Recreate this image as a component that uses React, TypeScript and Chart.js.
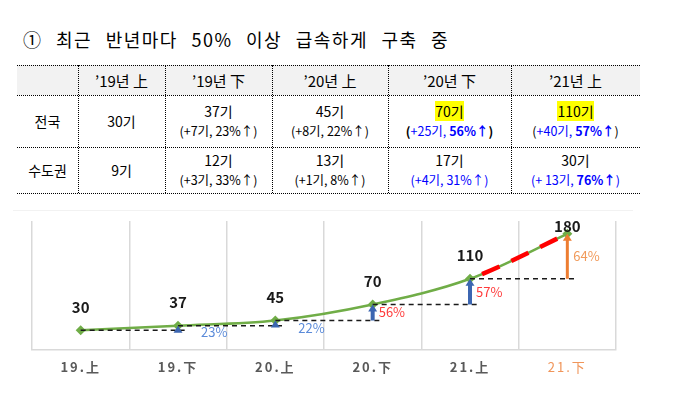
import React, { useEffect, useRef } from 'react';
import { Chart, registerables } from 'chart.js';

Chart.register(...registerables);

// ---------- data ----------
const titleText = '① 최근 반년마다 50% 이상 급속하게 구축 중';

const tableHeaders = ['’19년 上', '’19년 下', '’20년 上', '’20년 下', '’21년 上'];
const rowNames = ['전국', '수도권'];
const nationalCounts = ['30기', '37기', '45기', '70기', '110기'];
const nationalDeltas = ['', '+7기', '+8기', '+25기', '+40기'];
const nationalRates = ['', '23%', '22%', '56%', '57%'];
const capitalCounts = ['9기', '12기', '13기', '17기', '30기'];
const capitalDeltas = ['', '+3기', '+1기', '+4기', '+ 13기'];
const capitalRates = ['', '33%', '8%', '31%', '76%'];

const periods = ['19.上', '19.下', '20.上', '20.下', '21.上', '21.下'];
const stations = [30, 37, 45, 70, 110, 180];
const growthRates = ['', '23%', '22%', '56%', '57%', '64%'];

// ---------- styles ----------
const FONT = '"Noto Sans CJK KR", "Noto Sans", sans-serif';
const BLUE = '#0000FF';
const rateColors = ['', '#5B8BD9', '#5B8BD9', '#FF3B3B', '#FF3B3B', '#F19A5A'];
const arrowColors = ['', '#3C66B1', '#3C66B1', '#3C66B1', '#3C66B1', '#ED7D31'];
const colEdges = [17, 78, 165, 272, 388, 511, 640];
const rowEdges = [65, 95, 147, 193];

function arrow(ctx: CanvasRenderingContext2D, x: number, yFrom: number, yTo: number, color: string, w: number) {
  const head = 7;
  const hw = 4.5;
  ctx.strokeStyle = color;
  ctx.fillStyle = color;
  ctx.lineWidth = w;
  ctx.setLineDash([]);
  if (yFrom - yTo > head) {
    ctx.beginPath();
    ctx.moveTo(x, yFrom);
    ctx.lineTo(x, yTo + head - 1);
    ctx.stroke();
  }
  ctx.beginPath();
  ctx.moveTo(x, yTo);
  ctx.lineTo(x - hw, yTo + head);
  ctx.lineTo(x + hw, yTo + head);
  ctx.closePath();
  ctx.fill();
}

const overlayPlugin = {
  id: 'overlay',
  beforeDraw(chart: any) {
    (chart.ctx as any).letterSpacing = '2px';
  },
  beforeDatasetsDraw(chart: any) {
    (chart.ctx as any).letterSpacing = '0px';
  },
  afterDatasetsDraw(chart: any) {
    const ctx: CanvasRenderingContext2D = chart.ctx;
    const xs = chart.scales.x;
    const ys = chart.scales.y;
    const n = stations.length;
    ctx.save();
    (ctx as any).letterSpacing = '0px';
    // dashed reference levels
    ctx.strokeStyle = '#1a1a1a';
    ctx.lineWidth = 1.5;
    ctx.setLineDash([5, 4]);
    for (let i = 0; i < n - 1; i++) {
      const yy = ys.getPixelForValue(stations[i]);
      ctx.beginPath();
      ctx.moveTo(xs.getPixelForValue(i), yy);
      ctx.lineTo(xs.getPixelForValue(i + 1) + 10, yy);
      ctx.stroke();
    }
    // arrows + rate labels
    for (let i = 1; i < n; i++) {
      const ax = xs.getPixelForValue(i);
      const y0 = ys.getPixelForValue(stations[i - 1]);
      const y1 = ys.getPixelForValue(stations[i]);
      arrow(ctx, ax, y0, y1, arrowColors[i], i === n - 1 ? 3 : 4);
      const small = y0 - y1 < 12;
      ctx.font = `13px ${FONT}`;
      ctx.fillStyle = rateColors[i];
      ctx.textAlign = 'left';
      ctx.textBaseline = 'middle';
      ctx.fillText(growthRates[i], small ? ax + 23 : ax + 6, small ? y0 + 2 : (y0 + y1) / 2);
    }
    // value labels
    ctx.font = `bold 15px ${FONT}`;
    ctx.fillStyle = '#1a1a1a';
    ctx.textAlign = 'center';
    ctx.textBaseline = 'middle';
    for (let i = 0; i < n; i++) {
      const px = xs.getPixelForValue(i);
      const py = ys.getPixelForValue(stations[i]);
      ctx.fillText(String(stations[i]), px, Math.max(py - 23, chart.chartArea.top + 5));
    }
    ctx.restore();
  },
};

function Sub({ delta, rate, variant }: { delta: string; rate: string; variant: string }) {
  if (!delta) return null;
  if (variant === 'plain') return <span>({delta}, {rate}↑)</span>;
  if (variant === 'natBold')
    return (
      <span>
        <b>(</b>
        <span style={{ color: BLUE }}>{delta}, </span>
        <b style={{ color: BLUE }}>{rate}↑</b>
        <b>)</b>
      </span>
    );
  if (variant === 'natBlue')
    return (
      <span>
        (<span style={{ color: BLUE }}>{delta}, </span>
        <b style={{ color: BLUE }}>{rate}↑</b>)
      </span>
    );
  if (variant === 'blue') return <span style={{ color: BLUE }}>({delta}, {rate}↑)</span>;
  return (
    <span style={{ color: BLUE }}>
      ({delta}, <b>{rate}↑</b>)
    </span>
  );
}

export default function App() {
  const canvasRef = useRef<HTMLCanvasElement>(null);

  useEffect(() => {
    const canvas = canvasRef.current;
    if (!canvas) return;
    const lineData = stations;
    const chart = new Chart(canvas, {
      type: 'line',
      data: {
        labels: periods,
        datasets: [
          {
            label: 'projection',
            data: lineData,
            borderColor: 'rgba(0,0,0,0)',
            borderWidth: 4.5,
            pointRadius: 0,
            cubicInterpolationMode: 'monotone',
            segment: {
              borderColor: (c: any) => (c.p0DataIndex === stations.length - 2 ? '#FF0000' : 'rgba(0,0,0,0)'),
              borderDash: (c: any) => (c.p0DataIndex === stations.length - 2 ? [19, 13] : []),
              borderDashOffset: (c: any) => (c.p0DataIndex === stations.length - 2 ? 19 : 0),
            },
          } as any,
          {
            label: '전국',
            data: lineData,
            borderColor: '#70AD47',
            borderWidth: 2.5,
            pointStyle: 'rectRot',
            pointRadius: 5,
            pointBackgroundColor: '#70AD47',
            pointBorderColor: '#70AD47',
            pointBorderWidth: 0,
            cubicInterpolationMode: 'monotone',
          } as any,
        ],
      },
      options: {
        animation: false,
        responsive: false,
        devicePixelRatio: 1,
        layout: { padding: { left: 32, right: 75, top: 21, bottom: 9 } },
        plugins: { legend: { display: false }, tooltip: { enabled: false } },
        scales: {
          x: {
            type: 'category',
            offset: true,
            grid: { offset: true, color: '#D9D9D9', lineWidth: 1.5, drawTicks: false },
            border: { color: '#D9D9D9', width: 1.5 },
            ticks: {
              padding: 10,
              color: (c: any) => (c.index === periods.length - 1 ? '#F0955A' : '#595959'),
              font: (c: any) => ({
                family: FONT,
                size: 13,
                weight: c.index === periods.length - 1 ? 'normal' : 'bold',
              }),
            },
          },
          y: { display: false, min: 0, max: 200 },
        },
      } as any,
      plugins: [overlayPlugin as any],
    });
    return () => chart.destroy();
  }, []);

  const cellBase: React.CSSProperties = {
    position: 'absolute',
    display: 'flex',
    flexDirection: 'column',
    alignItems: 'center',
    justifyContent: 'center',
    textAlign: 'center',
    whiteSpace: 'nowrap',
    color: '#000',
  };

  const cells: React.ReactNode[] = [];
  // header row
  cells.push(
    <div key="hbg" style={{ position: 'absolute', left: colEdges[0], top: rowEdges[0], width: colEdges[6] - colEdges[0], height: rowEdges[1] - rowEdges[0], background: '#F2F2F2' }} />
  );
  tableHeaders.forEach((h, i) => {
    cells.push(
      <div key={'h' + i} style={{ ...cellBase, left: colEdges[i + 1], top: rowEdges[0], width: colEdges[i + 2] - colEdges[i + 1], height: rowEdges[1] - rowEdges[0], fontSize: 15 }}>
        {h}
      </div>
    );
  });
  const rows = [
    { counts: nationalCounts, deltas: nationalDeltas, rates: nationalRates, variants: ['', 'plain', 'plain', 'natBold', 'natBlue'], hl: [false, false, false, true, true] },
    { counts: capitalCounts, deltas: capitalDeltas, rates: capitalRates, variants: ['', 'plain', 'plain', 'blue', 'blueBold'], hl: [false, false, false, false, false] },
  ];
  rows.forEach((r, ri) => {
    const top = rowEdges[ri + 1];
    const height = rowEdges[ri + 2] - top;
    cells.push(
      <div key={'n' + ri} style={{ ...cellBase, left: colEdges[0], top, width: colEdges[1] - colEdges[0], height, fontSize: 14 }}>
        {rowNames[ri]}
      </div>
    );
    r.counts.forEach((c, ci) => {
      cells.push(
        <div key={'c' + ri + ci} style={{ ...cellBase, left: colEdges[ci + 1], top, width: colEdges[ci + 2] - colEdges[ci + 1], height, lineHeight: '19px' }}>
          <div style={{ fontSize: 14 }}>
            <span style={{ background: r.hl[ci] ? '#FFFF00' : 'transparent' }}>{c}</span>
          </div>
          {r.deltas[ci] ? (
            <div style={{ fontSize: 12.5 }}>
              <Sub delta={r.deltas[ci]} rate={r.rates[ci]} variant={r.variants[ci]} />
            </div>
          ) : null}
        </div>
      );
    });
  });
  // borders
  rowEdges.forEach((y, i) => {
    cells.push(
      <div key={'hl' + i} style={{ position: 'absolute', left: colEdges[0], top: y, width: colEdges[6] - colEdges[0], height: 0, borderTop: '1px dotted #000' }} />
    );
  });
  colEdges.slice(1, 6).forEach((x, i) => {
    cells.push(
      <div key={'vl' + i} style={{ position: 'absolute', left: x, top: rowEdges[0], width: 0, height: rowEdges[3] - rowEdges[0], borderLeft: '1px dotted #000' }} />
    );
  });

  return (
    <div style={{ position: 'absolute', left: 0, top: 0, width: 691, height: 394, background: '#fff', fontFamily: FONT, overflow: 'hidden' }}>
      <div style={{ position: 'absolute', left: 23, top: 28, fontSize: 18, lineHeight: '22px', color: '#000', whiteSpace: 'nowrap', letterSpacing: 1.5, wordSpacing: 8 }}>
        {titleText}
      </div>
      {cells}
      <div style={{ position: 'absolute', left: 13, top: 210, width: 620, height: 0, borderTop: '1px solid #F2F2F2' }} />
      <canvas ref={canvasRef} width={691} height={194} style={{ position: 'absolute', left: 0, top: 200, width: 691, height: 194 }} />
    </div>
  );
}
